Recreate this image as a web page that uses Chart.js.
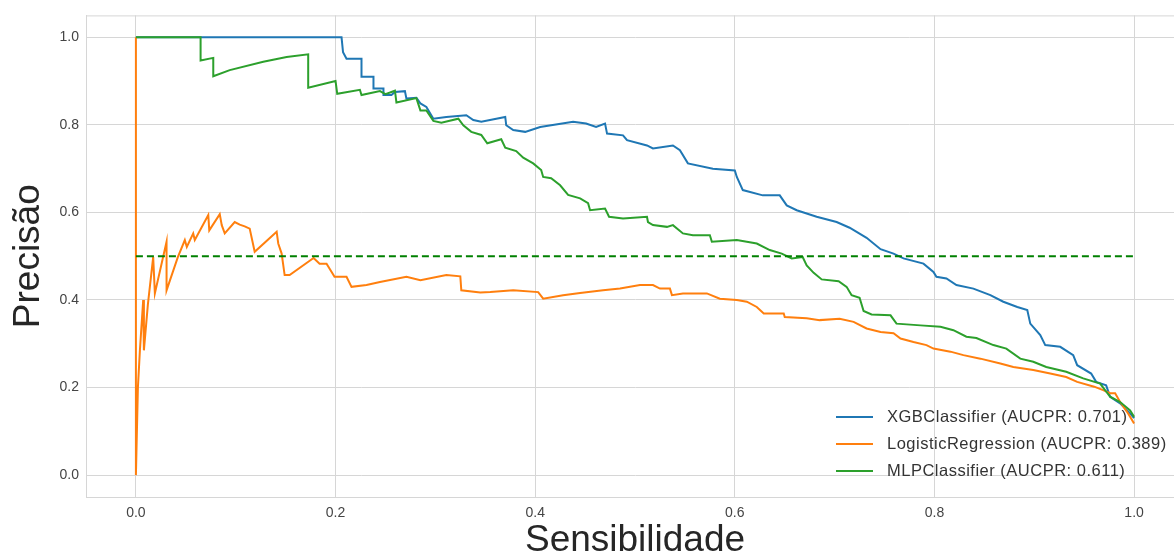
<!DOCTYPE html>
<html>
<head>
<meta charset="utf-8">
<script src="https://cdn.jsdelivr.net/npm/chart.js@4/dist/chart.umd.min.js"></script>
<style>
  html, body { margin: 0; padding: 0; background: #fff; overflow: hidden; }
  #wrap { position: relative; width: 1200px; height: 560px; }
  #legend { position: absolute; left: 836px; top: 403px; font-family: "Liberation Sans", Arial, sans-serif; font-size: 16.5px; letter-spacing: 0.5px; color: #333; }
  #legend div { height: 27px; line-height: 27px; white-space: nowrap; }
  #legend span.key { display: inline-block; width: 37px; height: 2px; vertical-align: middle; margin-right: 14px; position: relative; top: -1px; }
</style>
</head>
<body>
<div id="wrap">
  <canvas id="prCurve" width="1200" height="560"></canvas>
  <div id="legend"></div>
</div>
<script>
// recall / precision pairs
const xgbCurve = [[0,1.0],[0.206,1.0],[0.2075,0.966],[0.211,0.951],[0.226,0.951],[0.226,0.910],[0.238,0.910],[0.238,0.883],
  [0.248,0.883],[0.248,0.868],[0.256,0.868],[0.2595,0.875],[0.2695,0.877],[0.271,0.860],[0.281,0.862],[0.285,0.849],
  [0.291,0.841],[0.298,0.814],[0.311,0.818],[0.331,0.822],[0.338,0.811],[0.346,0.807],[0.370,0.818],[0.371,0.799],
  [0.378,0.788],[0.390,0.784],[0.405,0.795],[0.438,0.807],[0.451,0.803],[0.461,0.795],[0.470,0.803],[0.472,0.780],
  [0.488,0.776],[0.492,0.765],[0.512,0.753],[0.518,0.746],[0.538,0.753],[0.545,0.742],[0.553,0.712],[0.578,0.700],
  [0.600,0.696],[0.602,0.681],[0.608,0.651],[0.628,0.639],[0.645,0.639],[0.652,0.616],[0.662,0.605],[0.682,0.590],
  [0.702,0.578],[0.715,0.565],[0.732,0.542],[0.746,0.516],[0.759,0.506],[0.769,0.495],[0.789,0.483],[0.799,0.464],
  [0.802,0.453],[0.812,0.449],[0.822,0.434],[0.839,0.426],[0.856,0.411],[0.869,0.396],[0.883,0.384],[0.893,0.377],
  [0.896,0.346],[0.906,0.320],[0.911,0.297],[0.926,0.293],[0.939,0.274],[0.943,0.251],[0.957,0.232],[0.962,0.213],
  [0.972,0.205],[0.976,0.179],[0.986,0.164],[0.996,0.141],[1.0,0.130]];

const logregCurve = [[0,1.0],[0,0.0],[0.002,0.20],[0.004,0.285],[0.0073,0.400],[0.008,0.285],[0.012,0.39],[0.0173,0.498],
  [0.019,0.415],[0.0307,0.533],[0.0307,0.422],[0.042,0.498],[0.049,0.537],[0.051,0.521],[0.0574,0.552],[0.059,0.537],
  [0.0725,0.594],[0.0735,0.559],[0.084,0.596],[0.086,0.571],[0.089,0.552],[0.099,0.578],[0.104,0.572],[0.109,0.568],
  [0.114,0.563],[0.119,0.510],[0.141,0.556],[0.1426,0.529],[0.146,0.506],[0.149,0.457],[0.154,0.457],[0.178,0.496],
  [0.184,0.483],[0.191,0.483],[0.199,0.453],[0.211,0.453],[0.216,0.430],[0.231,0.434],[0.2445,0.441],[0.271,0.453],
  [0.285,0.445],[0.311,0.457],[0.325,0.454],[0.326,0.422],[0.345,0.417],[0.355,0.418],[0.378,0.422],[0.403,0.418],
  [0.408,0.403],[0.428,0.411],[0.445,0.416],[0.468,0.422],[0.485,0.426],[0.505,0.434],[0.518,0.434],[0.525,0.426],
  [0.535,0.426],[0.537,0.411],[0.548,0.415],[0.572,0.415],[0.585,0.403],[0.602,0.400],[0.612,0.396],[0.622,0.384],
  [0.629,0.369],[0.649,0.369],[0.650,0.361],[0.672,0.358],[0.685,0.354],[0.705,0.357],[0.719,0.350],[0.732,0.335],
  [0.746,0.327],[0.759,0.324],[0.766,0.312],[0.779,0.304],[0.792,0.297],[0.799,0.289],[0.816,0.282],[0.829,0.274],
  [0.846,0.266],[0.866,0.255],[0.879,0.247],[0.899,0.240],[0.916,0.232],[0.932,0.224],[0.943,0.213],[0.960,0.202],
  [0.969,0.194],[0.976,0.187],[0.981,0.187],[0.986,0.167],[0.994,0.141],[1.0,0.118]];

const mlpCurve = [[0,1.0],[0.0648,1.0],[0.0648,0.947],[0.0775,0.953],[0.0775,0.911],[0.094,0.925],[0.1276,0.944],[0.151,0.955],
  [0.1726,0.961],[0.1726,0.885],[0.200,0.900],[0.2017,0.871],[0.2244,0.880],[0.226,0.868],[0.2445,0.877],[0.250,0.870],
  [0.2595,0.878],[0.261,0.851],[0.281,0.861],[0.285,0.833],[0.291,0.833],[0.298,0.809],[0.306,0.805],[0.323,0.814],
  [0.328,0.799],[0.336,0.784],[0.346,0.777],[0.352,0.758],[0.366,0.767],[0.370,0.748],[0.381,0.740],[0.388,0.725],
  [0.398,0.712],[0.406,0.697],[0.408,0.681],[0.416,0.678],[0.425,0.662],[0.433,0.640],[0.445,0.632],[0.453,0.621],
  [0.455,0.605],[0.470,0.609],[0.474,0.590],[0.488,0.586],[0.512,0.590],[0.513,0.578],[0.518,0.571],[0.532,0.567],
  [0.538,0.571],[0.548,0.552],[0.558,0.548],[0.575,0.548],[0.577,0.533],[0.602,0.537],[0.612,0.533],[0.622,0.529],
  [0.635,0.514],[0.647,0.506],[0.657,0.495],[0.668,0.498],[0.672,0.479],[0.679,0.462],[0.687,0.447],[0.704,0.443],
  [0.712,0.430],[0.717,0.411],[0.725,0.405],[0.729,0.375],[0.737,0.367],[0.756,0.365],[0.762,0.346],[0.786,0.342],
  [0.806,0.339],[0.819,0.331],[0.832,0.316],[0.842,0.313],[0.859,0.297],[0.872,0.289],[0.886,0.266],[0.899,0.259],
  [0.912,0.247],[0.932,0.236],[0.949,0.221],[0.966,0.209],[0.976,0.179],[0.986,0.167],[0.996,0.148],[1.0,0.133]];

const baseline = [[0,0.5],[1,0.5]];

const modelNames = ['XGBClassifier', 'LogisticRegression', 'MLPClassifier'];
const aucpr = [0.701, 0.389, 0.611];
const colors = ['#1f77b4', '#ff7f0e', '#2ca02c'];

const xTicks = [0, 0.2, 0.4, 0.6, 0.8, 1.0];
const yTicks = [0, 0.2, 0.4, 0.6, 0.8, 1.0];

const toPts = arr => arr.map(p => ({x: p[0], y: p[1]}));
const curves = [xgbCurve, logregCurve, mlpCurve];

const datasets = curves.map((c, i) => ({
    label: modelNames[i] + ' (AUCPR: ' + aucpr[i].toFixed(3) + ')',
    data: toPts(c),
    borderColor: colors[i],
    borderWidth: 2,
    pointRadius: 0,
    tension: 0,
    order: 5 - i
}));
datasets.push({
    label: 'baseline',
    data: toPts(baseline),
    borderColor: '#008000',
    borderWidth: 2,
    borderDash: [7, 4],
    pointRadius: 0,
    order: 1
});

const gridColor = '#d6d6d6';
const fontFamily = '"Liberation Sans", Arial, sans-serif';
const tickFont = {family: fontFamily, size: 14};
const titleFont = {family: fontFamily, size: 37, lineHeight: 1};

const frame = {
    id: 'frame',
    afterDraw(chart) {
        const a = chart.chartArea, ctx = chart.ctx;
        ctx.save();
        ctx.strokeStyle = gridColor;
        ctx.lineWidth = 1;
        ctx.strokeRect(a.left + 0.5, a.top + 0.5, a.right - a.left, a.bottom - a.top);
        ctx.restore();
    }
};

new Chart(document.getElementById('prCurve'), {
    type: 'line',
    data: {datasets: datasets},
    plugins: [frame],
    options: {
        responsive: false,
        animation: false,
        layout: {padding: {top: 15, right: 16, left: 0, bottom: 0}},
        plugins: {legend: {display: false}, tooltip: {enabled: false}},
        scales: {
            x: {
                type: 'linear',
                min: -0.05,
                max: 1.05,
                afterBuildTicks: s => { s.ticks = xTicks.map(v => ({value: v})); },
                afterFit: s => { s.height = 63; },
                grid: {color: gridColor, drawTicks: false},
                border: {color: gridColor},
                ticks: {color: '#444', font: tickFont, padding: 8, callback: v => v.toFixed(1)},
                title: {display: true, text: 'Sensibilidade', color: '#262626', font: titleFont,
                        padding: {top: 0, bottom: 0.5}}
            },
            y: {
                type: 'linear',
                min: -0.05,
                max: 1.05,
                afterBuildTicks: s => { s.ticks = yTicks.map(v => ({value: v})); },
                afterFit: s => { s.width = 86; },
                grid: {color: gridColor, drawTicks: false},
                border: {color: gridColor},
                ticks: {color: '#444', font: tickFont, padding: 7, callback: v => v.toFixed(1)},
                title: {display: true, text: 'Precisão', color: '#262626', font: titleFont,
                        padding: {top: 10, bottom: 0}}
            }
        }
    }
});

const legend = document.getElementById('legend');
datasets.slice(0, 3).forEach(d => {
    const row = document.createElement('div');
    const key = document.createElement('span');
    key.className = 'key';
    key.style.background = d.borderColor;
    row.appendChild(key);
    row.appendChild(document.createTextNode(d.label));
    legend.appendChild(row);
});
</script>
</body>
</html>
